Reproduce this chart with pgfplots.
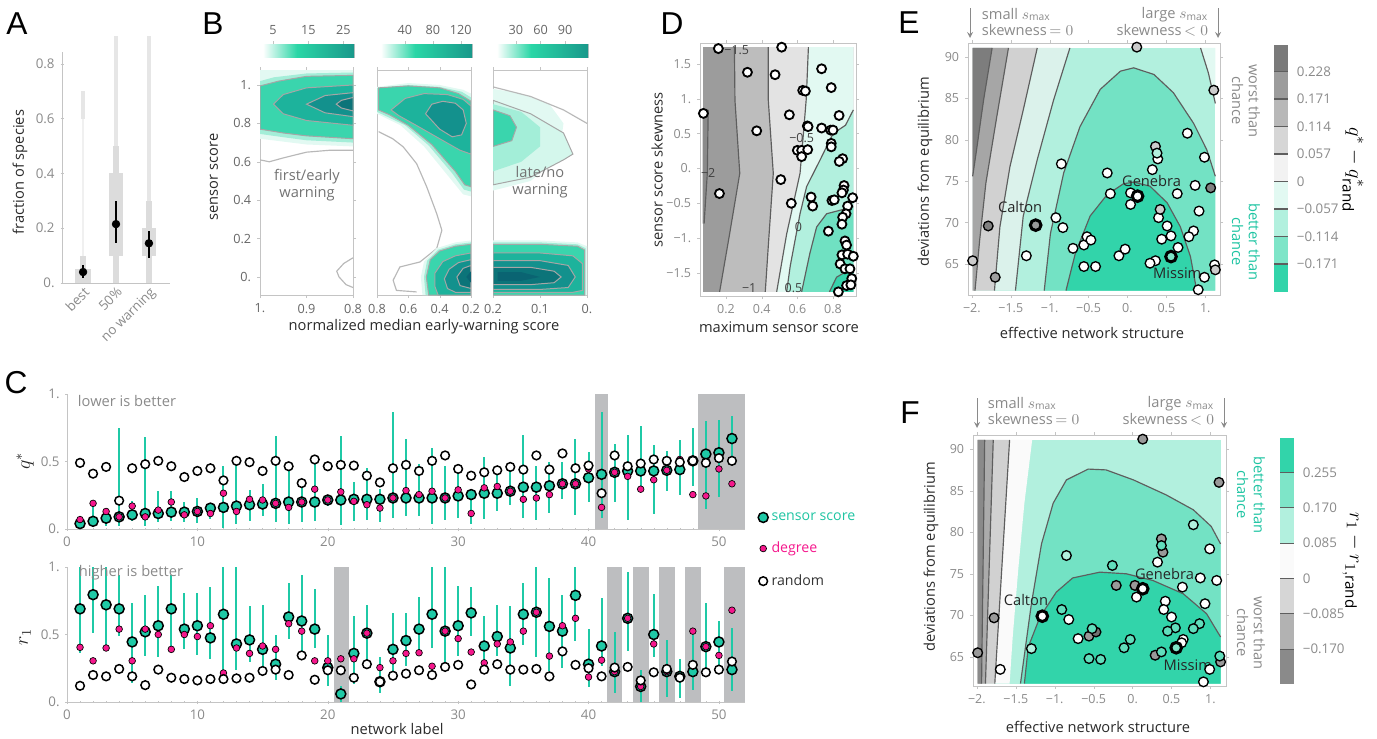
\documentclass[border=0pt]{standalone}
\usepackage{pgfplots}
\pgfplotsset{compat=1.18}
\usepackage{pgfplotstable}
\usepackage{fontspec}
\setmainfont{Open Sans}
\newfontfamily\letfont{Liberation Sans}
\newdimen\pu \pu=0.6pt

\definecolor{tg}{HTML}{8A8A8A}
\definecolor{fg}{HTML}{C4C4C4}
\definecolor{lbl}{HTML}{2A2A2A}
\definecolor{sens}{HTML}{1FC9A6}
\definecolor{senst}{HTML}{1EC4A2}
\definecolor{deg}{HTML}{F5178C}
\definecolor{shd}{HTML}{BDBEC0}
\definecolor{tA}{HTML}{2AD6A6}
\definecolor{tD}{HTML}{0A6574}
\definecolor{b0}{HTML}{E2F9F2}
\definecolor{b1}{HTML}{A3EED8}
\definecolor{b2}{HTML}{36D3AB}
\definecolor{b6}{HTML}{B2F0DE}
\definecolor{b7}{HTML}{7EE5C8}
\definecolor{p1}{HTML}{D4F7EC}
\definecolor{l1}{HTML}{3AD5AD}
\definecolor{l2}{HTML}{1DB39C}
\definecolor{l3}{HTML}{13918D}
\definecolor{l4}{HTML}{0C7479}
\definecolor{l5}{HTML}{0A6472}
\definecolor{cl}{HTML}{5E5E5E}
\definecolor{bxA}{HTML}{DCDCDC}
\definecolor{bxB}{HTML}{E6E6E6}
\definecolor{bxC}{HTML}{F0F0F0}

\pgfdeclarehorizontalshading{bshade}{100bp}{color(0bp)=(white); color(27bp)=(white); color(45bp)=(tA); color(100bp)=(tD)}

\newcommand{\bx}[5]{\addplot[fill=#5, draw=none, forget plot] coordinates {(#1,#3) (#2,#3) (#2,#4) (#1,#4)} -- cycle;}
\newcommand{\rg}[2]{\addplot[fill=#1, draw=none, forget plot] coordinates {#2} -- cycle;}
\newcommand{\rgd}[2]{\addplot[fill=#1, draw=black!35, line width=0.6pt, forget plot] coordinates {#2} -- cycle;}
\newcommand{\ctr}[1]{\addplot[draw=cl, line width=0.7pt, forget plot] coordinates {#1};}
\newcommand{\ctrl}[1]{\addplot[draw=black!28, line width=0.7pt, forget plot] coordinates {#1};}
\newcommand{\lbl}{\fontsize{8.8}{10}\selectfont}

\pgfplotsset{
  every axis/.append style={
    scale only axis, anchor=north west,
    font=\fontsize{7.5}{9}\selectfont,
    axis line style={fg}, tick style={fg},
    tick label style={text=tg},
    major tick length=3\pu, minor tick length=1.6\pu, tick align=outside,
  },
  /pgf/number format/assume math mode=true,
}

\pgfplotstableread{
n s lo hi d r
1 0.04 0.02 0.07 0.07 0.49
2 0.057 0.02 0.19 0.19 0.41
3 0.08 0.02 0.13 0.13 0.46
4 0.09 0.02 0.75 0.09 0.21
5 0.105 0.06 0.21 0.17 0.45
6 0.115 0.02 0.68 0.09 0.48
7 0.115 0.05 0.28 0.14 0.505
8 0.125 0.06 0.28 0.20 0.465
9 0.125 0.05 0.20 0.105 0.385
10 0.13 0.045 0.23 0.13 0.43
11 0.155 0.075 0.18 0.115 0.45
12 0.16 0.01 0.47 0.265 0.36
13 0.17 0.04 0.50 0.13 0.505
14 0.18 0.06 0.29 0.22 0.495
15 0.185 0.10 0.33 0.215 0.43
16 0.19 0.05 0.69 0.19 0.505
17 0.20 0.04 0.47 0.16 0.465
18 0.20 0.05 0.34 0.20 0.34
19 0.20 0.06 0.50 0.295 0.515
20 0.215 0.17 0.25 0.215 0.465
21 0.215 0.03 0.69 0.275 0.475
22 0.22 0.06 0.35 0.205 0.47
23 0.22 0.07 0.45 0.18 0.395
24 0.22 0.05 0.30 0.155 0.345
25 0.23 0.08 0.87 0.23 0.45
26 0.23 0.10 0.67 0.285 0.475
27 0.23 0.10 0.48 0.255 0.43
28 0.23 0.04 0.60 0.28 0.505
29 0.23 0.07 0.47 0.23 0.545
30 0.245 0.08 0.47 0.29 0.445
31 0.255 0.04 0.30 0.115 0.395
32 0.265 0.075 0.53 0.305 0.42
33 0.265 0.13 0.43 0.315 0.435
34 0.28 0.18 0.45 0.28 0.46
35 0.31 0.085 0.70 0.22 0.44
36 0.31 0.07 0.47 0.23 0.545
37 0.32 0.12 0.50 0.255 0.44
38 0.335 0.22 0.50 0.335 0.56
39 0.335 0.105 0.67 0.335 0.45
40 0.38 0.20 0.57 0.445 0.47
41 0.405 0.08 0.87 0.16 0.265
42 0.42 0.20 0.63 0.42 0.545
43 0.43 0.07 0.70 0.39 0.465
44 0.43 0.28 0.76 0.295 0.485
45 0.43 0.11 0.62 0.365 0.515
46 0.435 0.28 0.58 0.435 0.505
47 0.44 0.25 0.66 0.515 0.495
48 0.505 0.32 0.75 0.255 0.505
49 0.555 0.15 0.80 0.245 0.49
50 0.565 0.24 0.81 0.445 0.525
51 0.67 0.50 0.84 0.335 0.505
}\qtab

\pgfplotstableread{
n s lo hi d r
1 0.69 0.36 1.0 0.405 0.12
2 0.795 0.51 1.0 0.305 0.2
3 0.72 0.42 1.0 0.40 0.19
4 0.69 0.49 0.94 0.54 0.245
5 0.445 0.14 0.73 0.305 0.19
6 0.52 0.34 0.79 0.54 0.125
7 0.565 0.33 0.86 0.50 0.24
8 0.69 0.38 0.94 0.39 0.18
9 0.54 0.39 0.81 0.50 0.17
10 0.565 0.35 0.81 0.485 0.16
11 0.475 0.32 0.85 0.565 0.17
12 0.65 0.20 1.0 0.215 0.17
13 0.43 0.24 1.0 0.40 0.175
14 0.46 0.30 0.71 0.36 0.18
15 0.39 0.20 0.72 0.415 0.23
16 0.28 0.16 0.50 0.39 0.24
17 0.63 0.47 0.88 0.58 0.20
18 0.60 0.31 0.94 0.525 0.345
19 0.54 0.40 0.84 0.305 0.165
20 0.255 0.12 0.50 0.305 0.235
21 0.06 0.0 0.12 0.32 0.235
22 0.36 0.13 0.64 0.32 0.18
23 0.51 0.30 0.72 0.51 0.28
24 0.15 0.07 0.33 0.255 0.15
25 0.39 0.20 0.66 0.305 0.195
26 0.455 0.27 0.66 0.36 0.21
27 0.54 0.35 0.78 0.365 0.235
28 0.65 0.40 1.0 0.265 0.20
29 0.525 0.30 1.0 0.525 0.26
30 0.565 0.34 0.86 0.47 0.275
31 0.66 0.49 0.85 0.37 0.13
32 0.415 0.29 0.64 0.29 0.24
33 0.485 0.34 0.72 0.43 0.28
34 0.40 0.12 0.71 0.445 0.24
35 0.65 0.42 0.88 0.525 0.24
36 0.665 0.33 1.0 0.665 0.245
37 0.56 0.23 0.92 0.34 0.19
38 0.525 0.25 0.79 0.565 0.375
39 0.79 0.45 1.0 0.62 0.275
40 0.28 0.11 0.54 0.185 0.25
41 0.415 0.27 0.77 0.31 0.19
42 0.225 0.07 0.52 0.225 0.255
43 0.62 0.38 0.96 0.62 0.26
44 0.115 0.0 0.24 0.115 0.16
45 0.50 0.33 0.80 0.43 0.22
46 0.225 0.04 0.46 0.225 0.245
47 0.19 0.03 0.32 0.19 0.18
48 0.225 0.09 0.50 0.525 0.275
49 0.41 0.20 0.73 0.41 0.22
50 0.445 0.21 0.60 0.345 0.24
51 0.24 0.08 0.55 0.68 0.30
}\rtab

\begin{document}
\begin{tikzpicture}
\useasboundingbox (0,0) rectangle (1377\pu,-738\pu);

% ---------- A
\begin{axis}[at={(62\pu,-52\pu)}, width=108\pu, height=231\pu,
  xmin=0.36, xmax=3.64, ymin=0, ymax=0.843, clip=false,
  axis x line=bottom, axis y line=left, axis line style={fg,-},
  ytick={0,0.2,0.4,0.6,0.8}, yticklabels={0.,0.2,0.4,0.6,0.8},
  yticklabel style={font=\fontsize{8}{9}\selectfont},
  xtick={1,2,3}, xticklabels={best,50\%,no warning},
  xticklabel style={rotate=45, anchor=north east, font=\fontsize{8}{9}\selectfont, inner sep=0.5pt},
  xtick style={draw=none}]
\bx{0.76}{1.24}{0}{0.05}{bxA}
\bx{0.91}{1.09}{0.05}{0.1}{bxA}
\bx{0.97}{1.03}{0.1}{0.6}{bxC}
\bx{0.95}{1.05}{0.6}{0.7}{bxB}
\bx{1.9}{2.1}{0}{0.1}{bxA}
\bx{1.8}{2.2}{0.1}{0.4}{bxA}
\bx{1.9}{2.1}{0.4}{0.5}{bxA}
\bx{1.95}{2.05}{0.5}{0.9}{bxB}
\bx{2.9}{3.1}{0}{0.1}{bxA}
\bx{2.8}{3.2}{0.1}{0.2}{bxA}
\bx{2.9}{3.1}{0.2}{0.3}{bxA}
\bx{2.95}{3.05}{0.3}{0.9}{bxB}
\addplot[only marks, mark=*, mark size=2.3pt, black,
  error bars/.cd, y dir=both, y explicit, error mark=none,
  error bar style={line width=1.2pt, black}]
  coordinates {(1,0.04) += (0,0.025) -= (0,0.02)
               (2,0.215) += (0,0.085) -= (0,0.07)
               (3,0.145) += (0,0.045) -= (0,0.055)};
\end{axis}

% ---------- B1
\begin{axis}[at={(260\pu,-70\pu)}, width=93\pu, height=225\pu,
  x dir=reverse, xmin=0.8, xmax=1, ymin=-0.094, ymax=1.078,
  tick label style={text=black!60, font=\fontsize{7.6}{9}\selectfont},
  xtick={0.8,0.9,1}, xticklabels={0.8,0.9,1.},
  ytick={0,0.2,0.4,0.6,0.8,1}, yticklabels={0.,0.2,0.4,0.6,0.8,1.}]
\rg{b0}{(1.0,0.72) (0.95,0.705) (0.9,0.69) (0.8,0.68) (0.8,1.078) (1.0,1.078)}
\rg{b1}{(1.0,0.745) (0.95,0.728) (0.9,0.712) (0.8,0.70) (0.8,1.065) (0.9,1.06) (0.97,1.04) (1.0,1.02)}
\rgd{l1}{(1.0,0.77) (0.95,0.75) (0.9,0.735) (0.8,0.72) (0.8,1.05) (0.9,1.045) (0.96,1.02) (1.0,0.995)}
\rgd{l2}{(0.8,0.79) (0.9,0.815) (0.95,0.85) (0.971,0.9) (0.95,0.95) (0.9,0.985) (0.8,1.0)}
\rgd{l3}{(0.8,0.835) (0.86,0.855) (0.9,0.9) (0.86,0.945) (0.8,0.96)}
\rgd{l4}{(0.8,0.865) (0.825,0.88) (0.836,0.9) (0.825,0.92) (0.8,0.935)}
\ctrl{(1.0,0.61) (0.98,0.60) (0.95,0.62) (0.9,0.65) (0.85,0.66) (0.8,0.66)}
\ctrl{(0.8,0.1) (0.82,0.07) (0.835,0.03) (0.83,0.0) (0.815,-0.04) (0.8,-0.055)}
\end{axis}
\begin{axis}[at={(259\pu,-44\pu)}, width=95\pu, height=13\pu,
  xmin=1, xmax=28, ymin=0, ymax=1, ytick=\empty,
  xtick={5,15,25}, xtick pos=right, xticklabel pos=right,
  tick label style={text=black!60, font=\fontsize{7.6}{9}\selectfont}]
\shade[shading=bshade] (axis cs:1,0) rectangle (axis cs:28,1);
\end{axis}

% ---------- B2
\begin{axis}[at={(377\pu,-70\pu)}, width=94\pu, height=225\pu,
  x dir=reverse, xmin=0.2, xmax=0.8, ymin=-0.094, ymax=1.078,
  tick label style={text=black!60, font=\fontsize{7.6}{9}\selectfont},
  xtick={0.2,0.4,0.6,0.8}, xticklabels={0.2,0.4,0.6,0.8}, ytick=\empty]
\rg{b0}{(0.8,0.99) (0.6,1.01) (0.4,1.0) (0.25,0.975) (0.2,0.955) (0.2,0.42) (0.25,0.43) (0.35,0.53) (0.5,0.68) (0.65,0.79) (0.8,0.85)}
\rg{b1}{(0.8,0.985) (0.6,1.0) (0.4,0.99) (0.26,0.965) (0.2,0.935) (0.2,0.445) (0.245,0.455) (0.32,0.54) (0.47,0.685) (0.62,0.79) (0.8,0.86)}
\rgd{l1}{(0.79,0.985) (0.6,0.995) (0.4,0.985) (0.28,0.955) (0.2,0.915) (0.2,0.47) (0.24,0.48) (0.3,0.55) (0.45,0.69) (0.6,0.79) (0.72,0.845) (0.79,0.87)}
\rgd{l2}{(0.71,0.87) (0.62,0.93) (0.5,0.955) (0.35,0.95) (0.25,0.925) (0.2,0.89) (0.2,0.64) (0.27,0.66) (0.4,0.72) (0.55,0.79) (0.66,0.84)}
\rgd{l3}{(0.49,0.85) (0.45,0.9) (0.38,0.915) (0.3,0.905) (0.25,0.87) (0.23,0.8) (0.26,0.74) (0.32,0.73) (0.4,0.77)}
\ctrl{(0.79,0.757) (0.7,0.72) (0.633,0.678) (0.547,0.59) (0.483,0.47) (0.419,0.33) (0.386,0.243) (0.419,0.148) (0.526,0.078) (0.654,0.052) (0.697,-0.017) (0.676,-0.07) (0.547,-0.078)}
\rg{b0}{(0.2,0.19) (0.3,0.18) (0.42,0.15) (0.5,0.08) (0.52,0.0) (0.51,-0.094) (0.2,-0.094)}
\rg{b1}{(0.2,0.18) (0.3,0.17) (0.41,0.142) (0.48,0.085) (0.5,0.0) (0.49,-0.094) (0.2,-0.094)}
\rgd{l1}{(0.2,0.17) (0.3,0.16) (0.4,0.135) (0.46,0.09) (0.485,0.0) (0.47,-0.094) (0.2,-0.094)}
\rgd{l2}{(0.2,0.125) (0.3,0.11) (0.38,0.08) (0.43,0.02) (0.43,-0.05) (0.41,-0.094) (0.2,-0.094)}
\rgd{l3}{(0.2,0.09) (0.28,0.075) (0.34,0.04) (0.37,-0.01) (0.35,-0.06) (0.3,-0.08) (0.2,-0.08)}
\rgd{l4}{(0.2,0.06) (0.25,0.045) (0.29,0.0) (0.27,-0.045) (0.2,-0.06)}
\rg{l5}{(0.2,0.03) (0.23,0.0) (0.2,-0.03)}
\end{axis}
\begin{axis}[at={(377\pu,-44\pu)}, width=95\pu, height=13\pu,
  xmin=0, xmax=136, ymin=0, ymax=1, ytick=\empty,
  xtick={40,80,120}, xtick pos=right, xticklabel pos=right,
  tick label style={text=black!60, font=\fontsize{7.6}{9}\selectfont}]
\shade[shading=bshade] (axis cs:0,0) rectangle (axis cs:136,1);
\end{axis}

% ---------- B3
\begin{axis}[at={(493\pu,-70\pu)}, width=94\pu, height=225\pu,
  x dir=reverse, xmin=0, xmax=0.2, ymin=-0.094, ymax=1.078,
  tick label style={text=black!60, font=\fontsize{7.6}{9}\selectfont},
  xtick={0,0.1,0.2}, xticklabels={0.,0.1,0.2}, ytick=\empty]
\rg{b0}{(0.2,0.98) (0.14,0.955) (0.08,0.9) (0.05,0.8) (0.06,0.62) (0.12,0.5) (0.2,0.45)}
\rgd{p1}{(0.2,0.92) (0.12,0.85) (0.05,0.75) (0.03,0.64) (0.05,0.61) (0.12,0.52) (0.2,0.48)}
\rg{b1}{(0.2,0.9) (0.14,0.86) (0.1,0.78) (0.1,0.68) (0.14,0.6) (0.2,0.55)}
\rgd{l1}{(0.2,0.87) (0.164,0.84) (0.15,0.78) (0.16,0.71) (0.2,0.68)}
\ctrl{(0.2,0.99) (0.12,0.94) (0.05,0.87) (0.0,0.8)}
\rg{b0}{(0.2,0.19) (0.1,0.19) (0.02,0.18) (0.0,0.16) (0.0,-0.094) (0.2,-0.094)}
\rg{b1}{(0.2,0.18) (0.1,0.18) (0.02,0.17) (0.003,0.15) (0.003,-0.094) (0.2,-0.094)}
\rgd{l1}{(0.2,0.17) (0.1,0.17) (0.02,0.16) (0.005,0.14) (0.005,-0.094) (0.2,-0.094)}
\rgd{l2}{(0.2,0.125) (0.1,0.125) (0.03,0.11) (0.01,0.07) (0.01,-0.07) (0.03,-0.08) (0.2,-0.08)}
\rgd{l3}{(0.2,0.085) (0.1,0.085) (0.04,0.06) (0.025,0.0) (0.04,-0.055) (0.1,-0.065) (0.2,-0.065)}
\rgd{l4}{(0.2,0.05) (0.12,0.05) (0.07,0.03) (0.055,0.0) (0.07,-0.03) (0.12,-0.04) (0.2,-0.04)}
\rg{l5}{(0.19,0.025) (0.14,0.025) (0.1,0.0) (0.14,-0.02) (0.19,-0.02)}
\end{axis}
\begin{axis}[at={(493\pu,-44\pu)}, width=95\pu, height=13\pu,
  xmin=2, xmax=118, ymin=0, ymax=1, ytick=\empty,
  xtick={30,60,90}, xtick pos=right, xticklabel pos=right,
  tick label style={text=black!60, font=\fontsize{7.6}{9}\selectfont}]
\shade[shading=bshade] (axis cs:2,0) rectangle (axis cs:118,1);
\end{axis}

% ---------- D
\begin{axis}[at={(700\pu,-43\pu)}, width=156\pu, height=253\pu,
  xmin=0.054, xmax=0.929, ymin=-1.83, ymax=1.80, clip=false,
  xtick={0.2,0.4,0.6,0.8}, xticklabels={0.2,0.4,0.6,0.8},
  ytick={-1.5,-1,-0.5,0,0.5,1,1.5}, yticklabels={−1.5,−1.,−0.5,0.,0.5,1.,1.5}]
\rg{black!39}{(0.069,-1.77) (0.914,-1.77) (0.914,1.74) (0.069,1.74)}
\rg{black!46}{(0.069,0.84) (0.10,0.84) (0.095,-0.07) (0.077,-0.79) (0.069,-0.79)}
\rg{black!26}{(0.247,1.74) (0.25,0.98) (0.277,-0.07) (0.22,-0.94) (0.164,-1.77) (0.914,-1.77) (0.914,1.74)}
\rg{black!11}{(0.437,1.74) (0.437,0.98) (0.465,-0.07) (0.44,-1.0) (0.42,-1.77) (0.914,-1.77) (0.914,1.74)}
\rg{b0}{(0.662,1.74) (0.65,1.0) (0.634,0.5) (0.615,-0.07) (0.54,-0.94) (0.484,-1.77) (0.914,-1.77) (0.914,1.74)}
\rg{b6}{(0.914,0.84) (0.87,0.62) (0.8,0.5) (0.727,0.12) (0.652,-0.26) (0.615,-0.65) (0.56,-1.4) (0.54,-1.77) (0.914,-1.77)}
\rg{b7!80!b2}{(0.914,-0.55) (0.764,-0.65) (0.708,-0.84) (0.67,-1.22) (0.624,-1.77) (0.914,-1.77)}
\rg{b2}{(0.914,-1.42) (0.82,-1.56) (0.78,-1.77) (0.914,-1.77)}
\ctr{(0.247,1.74) (0.25,0.98) (0.277,-0.07) (0.22,-0.94) (0.164,-1.77)}
\ctr{(0.10,0.84) (0.095,-0.07) (0.077,-0.79)}
\ctr{(0.437,1.74) (0.437,0.98) (0.465,-0.07) (0.44,-1.0) (0.42,-1.77)}
\ctr{(0.662,1.74) (0.65,1.0) (0.634,0.5) (0.615,-0.07) (0.54,-0.94) (0.484,-1.77)}
\ctr{(0.914,0.84) (0.87,0.62) (0.8,0.5) (0.727,0.12) (0.652,-0.26) (0.615,-0.65) (0.56,-1.4) (0.54,-1.77)}
\ctr{(0.914,-0.55) (0.764,-0.65) (0.708,-0.84) (0.67,-1.22) (0.624,-1.77)}
\ctr{(0.914,-1.42) (0.82,-1.56) (0.78,-1.77)}
\begin{scope}[every node/.style={font=\fontsize{7.5}{8}\selectfont, text=black!75, inner sep=0.5pt}]
\node at (axis cs:0.26,1.70) {−1.5};
\node at (axis cs:0.10,-0.06) {−2};
\node at (axis cs:0.624,0.43) {−0.5};
\node at (axis cs:0.606,-0.84) {0};
\node at (axis cs:0.33,-1.71) {−1};
\node at (axis cs:0.578,-1.71) {0.5};
\end{scope}
\addplot[only marks, mark=*, mark size=2.7pt, mark options={fill=white, draw=black, line width=1.1pt}] coordinates {
(0.157,1.72) (0.512,1.74) (0.32,1.38) (0.475,1.345) (0.736,1.43) (0.63,1.12) (0.645,1.11) (0.79,1.16)
(0.073,0.79) (0.555,0.77) (0.834,0.76) (0.656,0.61) (0.66,0.60) (0.736,0.58) (0.787,0.55) (0.80,0.55)
(0.372,0.54) (0.79,0.36) (0.79,0.31) (0.60,0.26) (0.624,0.26) (0.658,0.27) (0.624,0.17) (0.854,0.14)
(0.835,0.10) (0.507,-0.16) (0.163,-0.36) (0.566,-0.50) (0.677,-0.41) (0.686,-0.54) (0.794,-0.46)
(0.807,-0.45) (0.862,-0.245) (0.858,-0.31) (0.85,-0.35) (0.91,-0.42) (0.882,-0.54) (0.873,-0.65)
(0.854,-0.70) (0.85,-0.80) (0.774,-0.90) (0.867,-1.04) (0.876,-1.10) (0.85,-1.24) (0.882,-1.23)
(0.914,-1.26) (0.84,-1.37) (0.867,-1.44) (0.895,-1.44) (0.905,-1.58) (0.876,-1.68) (0.90,-1.67) (0.83,-1.77)};
\end{axis}

% ---------- E
\begin{axis}[at={(968\pu,-43\pu)}, width=252\pu, height=252\pu,
  xmin=-2.05, xmax=1.19, ymin=61.26, ymax=91.7, clip=false,
  xtick={-2,-1.5,-1,-0.5,0,0.5,1}, xticklabels={−2.,−1.5,−1.,−0.5,0.,0.5,1.},
  ytick={65,70,75,80,85,90}, yticklabels={65,70,75,80,85,90}]
\rg{b6}{(-1.99,61.8) (1.13,61.8) (1.13,91.1) (-1.99,91.1)}
\rg{black!3!b0}{(-1.99,91.1) (-0.74,91.1) (-0.95,84.8) (-1.16,77.6) (-1.34,70.8) (-1.44,61.8) (-1.99,61.8)}
\rg{black!18}{(-1.99,91.1) (-1.16,91.1) (-1.34,83.6) (-1.51,76.8) (-1.64,69.5) (-1.71,61.8) (-1.99,61.8)}
\rg{black!35}{(-1.99,91.1) (-1.53,91.1) (-1.68,82.8) (-1.82,74.8) (-1.90,67.9) (-1.96,61.8) (-1.99,61.8)}
\rg{black!51}{(-1.99,91.1) (-1.74,91.1) (-1.85,84.8) (-1.94,78.8) (-1.99,75.6)}
\rg{b7!85!b2}{(-1.07,61.8) (-0.99,68.7) (-0.82,76.0) (-0.61,81.6) (-0.35,86.1) (-0.09,88.3) (0.08,88.7) (0.34,87.9) (0.59,85.7) (0.85,82.0) (1.02,78.8) (1.13,75.6) (1.13,61.8)}
\rg{b2!70!tA}{(-0.79,61.8) (-0.67,66.3) (-0.48,70.8) (-0.26,73.4) (-0.05,74.7) (0.08,74.9) (0.29,74.4) (0.51,72.4) (0.68,69.5) (0.81,65.9) (0.89,61.8)}
\rg{b0}{(0.94,91.1) (1.04,88.1) (1.13,84.4) (1.13,91.1)}
\ctr{(-1.74,91.1) (-1.85,84.8) (-1.94,78.8) (-1.99,75.6)}
\ctr{(-1.53,91.1) (-1.68,82.8) (-1.82,74.8) (-1.90,67.9) (-1.96,61.8)}
\ctr{(-1.16,91.1) (-1.34,83.6) (-1.51,76.8) (-1.64,69.5) (-1.71,61.8)}
\ctr{(-0.74,91.1) (-0.95,84.8) (-1.16,77.6) (-1.34,70.8) (-1.44,61.8)}
\ctr{(-1.07,61.8) (-0.99,68.7) (-0.82,76.0) (-0.61,81.6) (-0.35,86.1) (-0.09,88.3) (0.08,88.7) (0.34,87.9) (0.59,85.7) (0.85,82.0) (1.02,78.8) (1.13,75.6)}
\ctr{(-0.79,61.8) (-0.67,66.3) (-0.48,70.8) (-0.26,73.4) (-0.05,74.7) (0.08,74.9) (0.29,74.4) (0.51,72.4) (0.68,69.5) (0.81,65.9) (0.89,61.8)}
\ctr{(0.94,91.1) (1.04,88.1) (1.13,84.4)}
\addplot[only marks, mark=*, mark size=2.9pt, mark options={fill=white, draw=black, line width=0.8pt}] coordinates {
(0.77,80.8) (0.99,77.9) (0.39,77.7) (-0.85,77.1) (-0.26,76.0) (0.32,76.4) (-0.22,73.5) (0.04,73.6) (0.04,72.2)
(0.64,73.5) (0.87,74.5) (0.40,70.6) (0.51,69.6) (0.44,68.0) (0.56,68.4) (0.65,67.0) (0.92,71.4) (0.85,69.0)
(0.79,68.3) (0.36,65.4) (0.29,65.1) (0.99,63.4) (0.91,61.9) (1.12,64.9) (-0.92,70.6) (-0.83,69.4) (-0.70,66.9)
(-0.56,67.3) (-0.52,68.3) (-0.47,67.9) (-1.30,66.0) (-0.56,64.7) (-0.41,64.7) (-0.11,66.0) (-0.03,66.8)};
\addplot[only marks, mark=*, mark size=2.9pt, mark options={fill=black!20, draw=black, line width=0.8pt}] coordinates {
(0.12,91.2) (1.11,86.0) (0.36,79.2) (0.42,71.6) (-1.99,65.4) (1.13,64.3)};
\addplot[only marks, mark=*, mark size=2.9pt, mark options={fill=b6, draw=black, line width=0.8pt}] coordinates {(0.38,78.4)};
\addplot[only marks, mark=*, mark size=2.9pt, mark options={fill=black!50, draw=black, line width=0.8pt}] coordinates {
(1.07,74.2) (-1.79,69.6)};
\addplot[only marks, mark=*, mark size=2.9pt, mark options={fill=black!38, draw=black, line width=0.8pt}] coordinates {(-1.70,63.4)};
\addplot[only marks, mark=*, mark size=3.2pt, mark options={fill=white, draw=black, line width=1.8pt}] coordinates {(0.13,73.2)};
\addplot[only marks, mark=*, mark size=3.2pt, mark options={fill=black!40, draw=black, line width=1.8pt}] coordinates {(-1.18,69.7)};
\addplot[only marks, mark=*, mark size=3.2pt, mark options={fill=b7, draw=black, line width=1.8pt}] coordinates {(0.56,65.9)};
\begin{scope}[every node/.style={font=\lbl, text=black!85}]
\node at (axis cs:-1.38,71.9) {Calton};
\node at (axis cs:0.31,75.0) {Genebra};
\node at (axis cs:0.64,63.9) {Missim};
\end{scope}
\end{axis}
\begin{axis}[at={(1274\pu,-45\pu)}, width=14\pu, height=247\pu,
  xmin=0, xmax=1, ymin=-0.229, ymax=0.283, xtick=\empty,
  ytick={-0.171,-0.114,-0.057,0,0.057,0.114,0.171,0.228},
  yticklabels={−0.171,−0.114,−0.057,0,0.057,0.114,0.171,0.228},
  yticklabel pos=right, ytick style={draw=none}, axis line style={draw=none},
  ymajorgrids, grid style={cl, line width=0.7pt}, axis on top,
  yticklabel style={font=\fontsize{8}{9}\selectfont}]
\bx{0}{1}{0.228}{0.283}{black!52}
\bx{0}{1}{0.171}{0.228}{black!39}
\bx{0}{1}{0.114}{0.171}{black!28}
\bx{0}{1}{0.057}{0.114}{black!16}
\bx{0}{1}{0}{0.057}{black!5}
\bx{0}{1}{-0.057}{0}{b0}
\bx{0}{1}{-0.114}{-0.057}{b6}
\bx{0}{1}{-0.171}{-0.114}{b7}
\bx{0}{1}{-0.229}{-0.171}{b2!70!tA}
\end{axis}

% ---------- F
\begin{axis}[at={(973\pu,-435\pu)}, width=253\pu, height=251\pu,
  xmin=-2.05, xmax=1.20, ymin=61.5, ymax=91.7, clip=false,
  xtick={-2,-1.5,-1,-0.5,0,0.5,1}, xticklabels={−2.,−1.5,−1.,−0.5,0.,0.5,1.},
  ytick={65,70,75,80,85,90}, yticklabels={65,70,75,80,85,90}]
\rg{b6}{(-1.99,61.8) (1.13,61.8) (1.13,91.1) (-1.99,91.1)}
\rg{black!2}{(-1.99,91.1) (-1.29,91.1) (-1.39,83.5) (-1.47,75.4) (-1.54,67.4) (-1.58,61.8) (-1.99,61.8)}
\rg{black!18}{(-1.99,91.1) (-1.58,91.1) (-1.77,61.8) (-1.99,61.8)}
\rg{black!33}{(-1.99,91.1) (-1.79,91.1) (-1.89,61.8) (-1.99,61.8)}
\rg{black!46}{(-1.99,91.1) (-1.90,91.1) (-1.94,61.8) (-1.99,61.8)}
\rg{b7!85!b2}{(-1.44,61.8) (-1.37,66.6) (-1.30,71.4) (-1.17,78.6) (-1.02,83.5) (-0.85,86.3) (-0.57,87.6) (-0.34,87.5) (0.01,86.3) (0.43,84.5) (0.78,82.7) (1.01,80.7) (1.13,78.6) (1.13,61.8)}
\rg{b2!70!tA}{(-1.39,61.8) (-1.34,66.2) (-1.19,69.8) (-0.98,72.8) (-0.77,74.5) (-0.42,75.2) (-0.08,75.0) (0.26,74.2) (0.65,72.6) (0.95,70.2) (1.13,67.4) (1.13,61.8)}
\ctr{(-1.90,91.1) (-1.94,61.8)}
\ctr{(-1.79,91.1) (-1.89,61.8)}
\ctr{(-1.58,91.1) (-1.77,61.8)}
\ctr{(-1.44,61.8) (-1.37,66.6) (-1.30,71.4) (-1.17,78.6) (-1.02,83.5) (-0.85,86.3) (-0.57,87.6) (-0.34,87.5) (0.01,86.3) (0.43,84.5) (0.78,82.7) (1.01,80.7) (1.13,78.6)}
\ctr{(-1.39,61.8) (-1.34,66.2) (-1.19,69.8) (-0.98,72.8) (-0.77,74.5) (-0.42,75.2) (-0.08,75.0) (0.26,74.2) (0.65,72.6) (0.95,70.2) (1.13,67.4)}
\addplot[only marks, mark=*, mark size=2.9pt, mark options={fill=white, draw=black, line width=0.8pt}] coordinates {
(0.99,78.0) (0.32,76.4) (0.05,72.2) (0.64,73.4) (0.87,74.5) (1.08,74.2) (0.42,71.7) (0.40,70.7) (0.93,71.4)
(0.50,69.8) (0.65,67.1) (0.63,66.7) (0.99,63.5) (0.91,62.0) (-0.82,69.5) (-0.70,67.2) (-1.70,63.5)};
\addplot[only marks, mark=*, mark size=2.9pt, mark options={fill=black!40, draw=black, line width=0.8pt}] coordinates {
(0.13,91.2) (1.11,86.0) (0.37,79.2) (0.39,77.6) (-0.21,73.6) (0.03,73.6) (0.29,65.2) (1.13,64.4) (-1.78,69.7) (-0.56,67.5) (-1.99,65.5)};
\addplot[only marks, mark=*, mark size=2.9pt, mark options={fill=black!55, draw=black, line width=0.8pt}] coordinates {(-0.47,68.0)};
\addplot[only marks, mark=*, mark size=2.9pt, mark options={fill=b7!60!b2, draw=black, line width=0.8pt}] coordinates {
(0.37,78.4) (-0.26,76.0) (0.55,68.5) (0.45,68.1) (0.86,69.0) (0.78,68.4) (0.37,65.6) (1.12,65.1) (-0.91,70.7)
(-0.52,68.4) (-0.56,64.8) (-0.41,64.7) (-0.11,66.1) (-0.03,67.1)};
\addplot[only marks, mark=*, mark size=2.9pt, mark options={fill=b6, draw=black, line width=0.8pt}] coordinates {
(0.78,80.9) (-0.85,77.2) (-1.30,66.0)};
\addplot[only marks, mark=*, mark size=3.2pt, mark options={fill=white, draw=black, line width=1.8pt}] coordinates {(0.13,73.2) (-1.16,69.9)};
\addplot[only marks, mark=*, mark size=3.2pt, mark options={fill=b7, draw=black, line width=1.8pt}] coordinates {(0.56,66.1)};
\begin{scope}[every node/.style={font=\lbl, text=black!85}]
\node at (axis cs:-1.37,71.8) {Calton};
\node at (axis cs:0.41,75.0) {Genebra};
\node at (axis cs:0.71,64.0) {Missim};
\end{scope}
\end{axis}
\begin{axis}[at={(1280\pu,-438\pu)}, width=14\pu, height=246\pu,
  xmin=0, xmax=1, ymin=-0.254, ymax=0.338, xtick=\empty,
  ytick={-0.17,-0.085,0,0.085,0.17,0.255},
  yticklabels={−0.170,−0.085,0,0.085,0.170,0.255},
  yticklabel pos=right, ytick style={draw=none}, axis line style={draw=none},
  ymajorgrids, grid style={cl, line width=0.7pt}, axis on top,
  yticklabel style={font=\fontsize{8}{9}\selectfont}]
\bx{0}{1}{0.255}{0.338}{b2!70!tA}
\bx{0}{1}{0.17}{0.255}{b7}
\bx{0}{1}{0.085}{0.17}{b6}
\bx{0}{1}{0}{0.085}{black!2}
\bx{0}{1}{-0.085}{0}{black!16}
\bx{0}{1}{-0.17}{-0.085}{black!30}
\bx{0}{1}{-0.254}{-0.17}{black!46}
\end{axis}

% ---------- C top
\begin{axis}[at={(67\pu,-394\pu)}, width=678\pu, height=135\pu,
  xmin=0, xmax=52, ymin=0, ymax=1, clip=false,
  axis x line=bottom, axis y line=left, axis line style={fg,-},
  xtick={0,10,20,30,40,50}, minor x tick num=9,
  ytick={0,0.5,1}, yticklabels={0.,0.5,1.},
  tick label style={font=\fontsize{8}{9}\selectfont},
  legend style={draw=none, fill=none, inner sep=0pt, at={(axis description cs:1.019,-0.156)}, anchor=west,
    font=\fontsize{8.5}{10}\selectfont, row sep=7.6pt, legend cell align=left},
  legend image code/.code={\draw[#1] plot coordinates {(0pt,0pt)};}]
\bx{40.5}{41.5}{0}{1}{shd}
\bx{48.4}{52}{0}{1}{shd}
\addplot[only marks, mark=*, mark size=3pt, mark options={fill=sens, draw=black, line width=0.9pt},
  error bars/.cd, y dir=both, y explicit, error mark=none, error bar style={sens, line width=1.2pt}]
  table[x=n, y=s, y error plus expr=\thisrow{hi}-\thisrow{s}, y error minus expr=\thisrow{s}-\thisrow{lo}] {\qtab};
\addlegendentry{\textcolor{senst}{sensor score}}
\addplot[only marks, mark=*, mark size=2pt, mark options={fill=deg, draw=none}] table[x=n, y=d] {\qtab};
\addlegendentry{\textcolor{deg}{degree}}
\addplot[only marks, mark=*, mark size=2.6pt, mark options={fill=white, draw=black, line width=0.9pt}] table[x=n, y=r] {\qtab};
\addlegendentry{\textcolor{black!80}{random}}
\end{axis}

% ---------- C bottom
\begin{axis}[at={(67\pu,-567\pu)}, width=678\pu, height=135\pu,
  xmin=0, xmax=52, ymin=0, ymax=1, clip=false,
  axis x line=bottom, axis y line=left, axis line style={fg,-},
  xtick={0,10,20,30,40,50}, minor x tick num=9,
  ytick={0,0.5,1}, yticklabels={0.,0.5,1.},
  tick label style={font=\fontsize{8}{9}\selectfont}]
\bx{20.5}{21.6}{0}{1}{shd}
\bx{41.4}{42.6}{0}{1}{shd}
\bx{43.4}{44.6}{0}{1}{shd}
\bx{45.4}{46.6}{0}{1}{shd}
\bx{47.4}{48.6}{0}{1}{shd}
\bx{50.4}{52}{0}{1}{shd}
\addplot[only marks, mark=*, mark size=3pt, mark options={fill=sens, draw=black, line width=0.9pt},
  error bars/.cd, y dir=both, y explicit, error mark=none, error bar style={sens, line width=1.2pt}]
  table[x=n, y=s, y error plus expr=\thisrow{hi}-\thisrow{s}, y error minus expr=\thisrow{s}-\thisrow{lo}] {\rtab};
\addplot[only marks, mark=*, mark size=2pt, mark options={fill=deg, draw=none}] table[x=n, y=d] {\rtab};
\addplot[only marks, mark=*, mark size=2.6pt, mark options={fill=white, draw=black, line width=0.9pt}] table[x=n, y=r] {\rtab};
\end{axis}

% ---------- texts on top
\begin{scope}[every node/.style={font=\letfont\fontsize{19}{19}\selectfont}]
\node at (17\pu,-24\pu) {A};
\node at (213\pu,-24\pu) {B};
\node at (16\pu,-383\pu) {C};
\node at (672\pu,-24\pu) {D};
\node at (909\pu,-23\pu) {E};
\node at (910\pu,-413\pu) {F};
\end{scope}
\begin{scope}[every node/.style={font=\lbl, text=lbl}]
\node[rotate=90] at (20\pu,-172\pu) {fraction of species};
\node[rotate=90] at (214\pu,-177\pu) {sensor score};
\node at (424\pu,-327\pu) {normalized median early-warning score};
\node[rotate=90] at (657\pu,-170\pu) {sensor score skewness};
\node at (779\pu,-327\pu) {maximum sensor score};
\node[rotate=90] at (925\pu,-172\pu) {deviations from equilibrium};
\node at (1092\pu,-333\pu) {effective network structure};
\node[rotate=90] at (931\pu,-557\pu) {deviations from equilibrium};
\node at (1098\pu,-727\pu) {effective network structure};
\node at (397\pu,-729\pu) {network label};
\node[rotate=90, font=\fontsize{12}{12}\selectfont] at (25\pu,-461\pu) {$q^*$};
\node[rotate=90, font=\fontsize{12}{12}\selectfont] at (25\pu,-637\pu) {$r_1$};
\end{scope}
\begin{scope}[every node/.style={font=\lbl, text=tg, align=center}]
\node[text=black!55] at (307\pu,-185\pu) {first/early\\warning};
\node[text=black!55] at (540\pu,-182\pu) {late/no\\warning};
\node at (127\pu,-401\pu) {lower is better};
\node at (131\pu,-573\pu) {higher is better};
\node[anchor=west, align=left] at (976\pu,-22\pu) {small $s_{\mathrm{max}}$\\skewness$\,=0$};
\node[anchor=east, align=right] at (1214\pu,-22\pu) {large $s_{\mathrm{max}}$\\skewness$\,<0$};
\node[anchor=west, align=left] at (982\pu,-411\pu) {small $s_{\mathrm{max}}$\\skewness$\,=0$};
\node[anchor=east, align=right] at (1220\pu,-411\pu) {large $s_{\mathrm{max}}$\\skewness$\,<0$};
\node[rotate=-90] at (1246\pu,-101\pu) {worst than\\chance};
\node[rotate=-90, text=senst] at (1246\pu,-242\pu) {better than\\chance};
\node[rotate=-90, text=senst] at (1251\pu,-495\pu) {better than\\chance};
\node[rotate=-90] at (1251\pu,-633\pu) {worst than\\chance};
\end{scope}
\draw[tg, -stealth, line width=0.6pt] (970\pu,-8\pu) -- (970\pu,-38\pu);
\draw[tg, -stealth, line width=0.6pt] (1218\pu,-8\pu) -- (1218\pu,-38\pu);
\draw[tg, -stealth, line width=0.6pt] (977\pu,-398\pu) -- (977\pu,-428\pu);
\draw[tg, -stealth, line width=0.6pt] (1224\pu,-398\pu) -- (1224\pu,-428\pu);
\node[rotate=-90, font=\fontsize{13}{13}\selectfont] at (1353\pu,-170\pu) {$q^*-q^*_{\mathrm{rand}}$};
\node[rotate=-90, font=\fontsize{13}{13}\selectfont] at (1352\pu,-561\pu) {$r_1-r_{1,\mathrm{rand}}$};
\end{tikzpicture}
\end{document}
